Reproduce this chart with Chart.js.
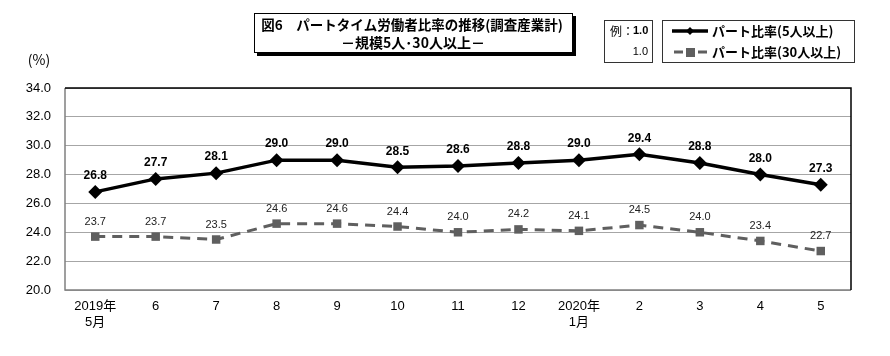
<!DOCTYPE html>
<html><head><meta charset="utf-8">
<script src="https://cdn.jsdelivr.net/npm/chart.js@4"></script>
<style>html,body{margin:0;padding:0;background:#fff}#wrap{width:890px;height:356px;position:relative}</style>
</head><body><div id="wrap"><canvas id="c" width="890" height="356"></canvas></div>
<script>
const categories = [['2019年','5月'],'6','7','8','9','10','11','12',['2020年','1月'],'2','3','4','5'];
const part5 = [26.8,27.7,28.1,29.0,29.0,28.5,28.6,28.8,29.0,29.4,28.8,28.0,27.3];
const part30 = [23.7,23.7,23.5,24.6,24.6,24.4,24.0,24.2,24.1,24.5,24.0,23.4,22.7];
const yMin = 20, yMax = 34, yStep = 2;
const seriesNames = ['パート比率(5人以上)','パート比率(30人以上)'];
const titleLines = ['図6　パートタイム労働者比率の推移(調査産業計)','－規模5人･30人以上－'];
const unitLabel = '(%)';
const exampleLines = ['例：','1.0','1.0'];

const JP = '"Noto Sans CJK JP", sans-serif';
const NUM = '"Liberation Sans Narrow", "Liberation Sans", "Noto Sans CJK JP", sans-serif';
const GRAY = '#5f5f5f';

const decor = {
  id: 'decor',
  beforeDatasetsDraw(chart) {
    const ctx = chart.ctx, a = chart.chartArea;
    ctx.save();
    ctx.lineWidth = 1.5;
    ctx.strokeStyle = '#808080';
    ctx.beginPath();
    ctx.moveTo(a.left, a.top); ctx.lineTo(a.left, a.bottom); ctx.lineTo(a.right, a.bottom);
    ctx.stroke();
    ctx.strokeStyle = '#000';
    ctx.beginPath();
    ctx.moveTo(a.left, a.top); ctx.lineTo(a.right, a.top); ctx.lineTo(a.right, a.bottom);
    ctx.stroke();
    ctx.restore();
  },
  afterDatasetsDraw(chart) {
    const ctx = chart.ctx;
    ctx.save();
    ctx.textAlign = 'center';
    ctx.textBaseline = 'middle';
    chart.getDatasetMeta(0).data.forEach((p, i) => {
      ctx.font = 'bold 12px ' + NUM;
      ctx.fillStyle = '#000';
      ctx.fillText(part5[i].toFixed(1), p.x, p.y - 16);
    });
    chart.getDatasetMeta(1).data.forEach((p, i) => {
      ctx.font = '11px ' + NUM;
      ctx.fillStyle = '#222';
      ctx.fillText(part30[i].toFixed(1), p.x, p.y - 15);
    });
    ctx.font = '14px ' + JP;
    ctx.fillStyle = '#000';
    ctx.fillText(unitLabel, 39, 60);

    ctx.fillStyle = '#000';
    ctx.fillRect(257, 16, 319, 40);
    ctx.fillStyle = '#fff';
    ctx.fillRect(254, 13, 319, 40);
    ctx.strokeStyle = '#000';
    ctx.lineWidth = 1;
    ctx.strokeRect(254.5, 13.5, 318, 39);
    ctx.fillStyle = '#000';
    ctx.font = 'bold 13.5px ' + JP;
    ctx.fillText(titleLines[0], 412, 25);
    ctx.font = 'bold 14px ' + JP;
    ctx.fillText(titleLines[1], 413, 43);

    ctx.strokeStyle = '#333';
    ctx.strokeRect(604.5, 20.5, 48, 42);
    ctx.textAlign = 'left';
    ctx.font = '12px ' + JP;
    ctx.fillText(exampleLines[0], 610, 31);
    ctx.font = 'bold 11px ' + NUM;
    ctx.fillText(exampleLines[1], 633, 31);
    ctx.textAlign = 'right';
    ctx.font = '11px ' + NUM;
    ctx.fillText(exampleLines[2], 648, 52);

    ctx.strokeRect(662.5, 20.5, 192, 42);
    ctx.strokeStyle = '#000'; ctx.lineWidth = 3.5;
    ctx.beginPath(); ctx.moveTo(672, 31); ctx.lineTo(708, 31); ctx.stroke();
    ctx.fillStyle = '#000';
    ctx.beginPath(); ctx.moveTo(690, 27); ctx.lineTo(694, 31); ctx.lineTo(690, 35); ctx.lineTo(686, 31); ctx.closePath(); ctx.fill();
    ctx.strokeStyle = GRAY; ctx.lineWidth = 3;
    ctx.beginPath(); ctx.moveTo(674, 52); ctx.lineTo(683, 52); ctx.moveTo(698, 52); ctx.lineTo(707, 52); ctx.stroke();
    ctx.fillStyle = GRAY;
    ctx.fillRect(686, 48, 9, 9);
    ctx.fillStyle = '#000';
    ctx.textAlign = 'left';
    ctx.font = 'bold 13px ' + JP;
    ctx.fillText(seriesNames[0], 712, 31);
    ctx.fillText(seriesNames[1], 712, 52);
    ctx.restore();
  }
};

new Chart(document.getElementById('c'), {
  type: 'line',
  data: {
    labels: categories,
    datasets: [
      { label: seriesNames[0], data: part5, borderColor: '#000', backgroundColor: '#000', borderWidth: 3.5,
        pointStyle: 'rectRot', pointRadius: 7, pointHoverRadius: 7, pointBorderWidth: 0, tension: 0 },
      { label: seriesNames[1], data: part30, borderColor: GRAY, backgroundColor: GRAY, borderWidth: 3,
        borderDash: [10, 7], pointStyle: 'rect', pointRadius: 6, pointHoverRadius: 6, pointBorderWidth: 0, tension: 0 }
    ]
  },
  options: {
    responsive: false, animation: false, devicePixelRatio: 1,
    layout: { padding: { top: 88, right: 39, left: 0, bottom: 0 } },
    plugins: { legend: { display: false }, title: { display: false }, tooltip: { enabled: false } },
    scales: {
      x: {
        offset: true,
        grid: { display: false, drawTicks: false },
        border: { display: false },
        ticks: { color: '#000', font: { family: NUM, size: 13 }, padding: 9, maxRotation: 0, autoSkip: false },
        afterFit(s) { s.height = 66; }
      },
      y: {
        min: yMin, max: yMax,
        grid: { color: '#a6a6a6', lineWidth: 1, drawTicks: false },
        border: { display: false },
        ticks: { stepSize: yStep, color: '#000', font: { family: '"Liberation Sans", sans-serif', size: 13 }, padding: 14,
          callback: v => Number(v).toFixed(1) },
        afterFit(s) { s.width = 65; }
      }
    }
  },
  plugins: [decor]
});
</script>
</body></html>
